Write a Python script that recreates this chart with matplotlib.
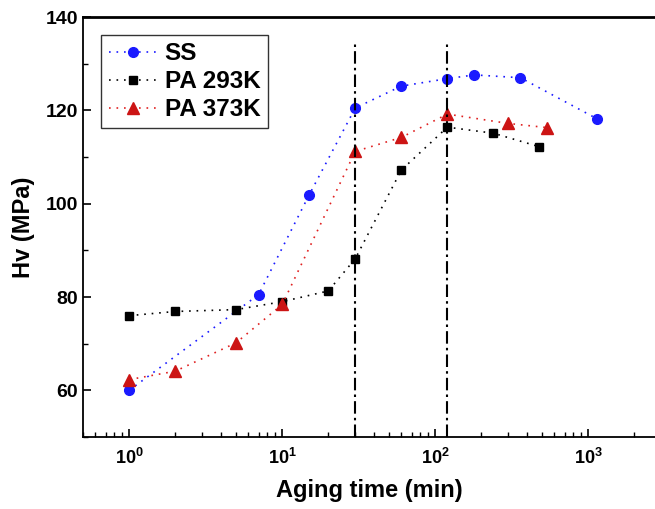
import numpy as np
import matplotlib
matplotlib.use("Agg")
import matplotlib.pyplot as plt
from matplotlib.ticker import FuncFormatter, MultipleLocator, LogLocator

plt.rcParams['font.family'] = ['Liberation Sans', 'DejaVu Sans']
plt.rcParams['font.weight'] = 'bold'
plt.rcParams['mathtext.fontset'] = 'custom'
plt.rcParams['mathtext.bf'] = 'Liberation Sans:bold'
plt.rcParams['mathtext.rm'] = 'Liberation Sans:bold'

# data
ss_t = [1, 7, 15, 30, 60, 120, 180, 360, 1140]
ss_hv = [60.0, 80.5, 101.9, 120.5, 125.2, 126.8, 127.6, 127.0, 118.2]

pa293_t = [1, 2, 5, 10, 20, 30, 60, 120, 240, 480]
pa293_hv = [76.0, 76.9, 77.3, 79.0, 81.3, 88.2, 107.2, 116.4, 115.1, 112.2]

pa373_t = [1, 2, 5, 10, 30, 60, 120, 300, 540]
pa373_hv = [62.3, 64.1, 70.2, 78.4, 111.2, 114.2, 119.2, 117.2, 116.3]

vline_t = [30, 120]

fig = plt.figure(figsize=(6.55, 5.09), dpi=100)
ax = fig.add_axes([0.127, 0.1415, 0.873, 0.825])

dots = (0, (1, 3.5))
ax.plot(ss_t, ss_hv, linestyle=dots, lw=1.2, color='#1a1aff', marker='o',
        ms=7, mec='#1a1aff', mfc='#1a1aff', label='SS')
ax.plot(pa293_t, pa293_hv, linestyle=dots, lw=1.2, color='black', marker='s',
        ms=6.3, label='PA 293K')
ax.plot(pa373_t, pa373_hv, linestyle=dots, lw=1.2, color='#e02020', marker='^',
        ms=8.5, mfc='#cc1414', mec='#cc1414', label='PA 373K')

for t in vline_t:
    ax.plot([t, t], [50, 134.5], color='black', lw=1.5,
            linestyle=(0, (6, 2, 1.2, 2)))

ax.set_xscale('log')
ax.set_xlim(0.5, 2730)
ax.set_ylim(50, 140)

ax.yaxis.set_major_locator(MultipleLocator(20))
ax.yaxis.set_minor_locator(MultipleLocator(10))
ax.xaxis.set_major_locator(LogLocator(base=10))
ax.xaxis.set_minor_locator(LogLocator(base=10, subs=np.arange(2, 10)))
ax.xaxis.set_major_formatter(FuncFormatter(lambda v, p: r'$\mathbf{10^{%d}}$' % round(np.log10(v))))

ax.tick_params(axis='both', which='major', direction='in', length=6, width=1.2,
               labelsize=14, top=False, right=False)
ax.tick_params(axis='x', which='major', labelsize=13, pad=8)
ax.tick_params(axis='both', which='minor', direction='in', length=3.5, width=1.0,
               top=False, right=False)

ax.spines['right'].set_visible(False)
ax.spines['top'].set_linewidth(2)
ax.spines['left'].set_linewidth(1.3)
ax.spines['bottom'].set_linewidth(1.3)

ax.set_xlabel('Aging time (min)', fontsize=17, fontweight='bold', labelpad=8)
ax.set_ylabel('Hv (MPa)', fontsize=17, fontweight='bold', labelpad=8)

leg = ax.legend(loc='upper left', bbox_to_anchor=(0.032, 0.957), borderaxespad=0,
                fancybox=False, edgecolor='black', fontsize=17.5, handlelength=2.0,
                labelspacing=0.2, borderpad=0.3, handletextpad=0.3)
leg.get_frame().set_linewidth(1.0)
for txt in leg.get_texts():
    txt.set_fontweight('bold')

fig.savefig('out.png', dpi=100)
